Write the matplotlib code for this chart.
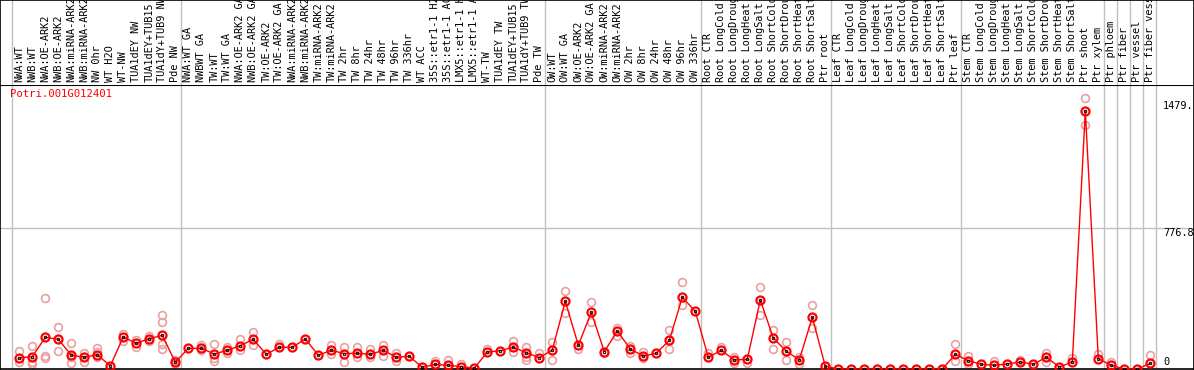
import matplotlib
matplotlib.use("Agg")
import matplotlib.pyplot as plt

gene = "Potri.001G012401"

labels = [
    "NWA:WT", "NWB:WT", "NWA:OE-ARK2", "NWB:OE-ARK2", "NWA:miRNA-ARK2", "NWB:miRNA-ARK2",
    "NW 0hr", "WT H2O", "WT-NW", "TUA1dEY NW", "TUA1dEY+TUB15", "TUA1dY+TUB9 NW", "Pde NW",
    "NWA:WT GA", "NWBWT GA", "TW:WT", "TW:WT GA", "NWA:OE-ARK2 GA", "NWB:OE-ARK2 GA",
    "TW:OE-ARK2", "TW:OE-ARK2 GA", "NWA:miRNA-ARK2", "NWB:miRNA-ARK2", "TW:miRNA-ARK2",
    "TW:miRNA-ARK2", "TW 2hr", "TW 8hr", "TW 24hr", "TW 48hr", "TW 96hr", "TW 336hr", "WT ACC",
    "35S::etr1-1 H2O", "35S::etr1-1 ACC", "LMX5::etr1-1 H2O", "LMX5::etr1-1 ACC", "WT-TW",
    "TUA1dEY TW", "TUA1dEY+TUB15", "TUA1dY+TUB9 TW", "Pde TW",
    "OW:WT", "OW:WT GA", "OW:OE-ARK2", "OW:OE-ARK2 GA", "OW:miRNA-ARK2", "OW:miRNA-ARK2",
    "OW 2hr", "OW 8hr", "OW 24hr", "OW 48hr", "OW 96hr", "OW 336hr",
    "Root CTR", "Root LongCold", "Root LongDrought", "Root LongHeat", "Root LongSalt",
    "Root ShortCold", "Root ShortDrought", "Root ShortHeat", "Root ShortSalt", "Ptr root",
    "Leaf CTR", "Leaf LongCold", "Leaf LongDrought", "Leaf LongHeat", "Leaf LongSalt",
    "Leaf ShortCold", "Leaf ShortDrought", "Leaf ShortHeat", "Leaf ShortSalt", "Ptr leaf",
    "Stem CTR", "Stem LongCold", "Stem LongDrought", "Stem LongHeat", "Stem LongSalt",
    "Stem ShortCold", "Stem ShortDrought", "Stem ShortHeat", "Stem ShortSalt",
    "Ptr shoot", "Ptr xylem", "Ptr phloem", "Ptr fiber", "Ptr vessel", "Ptr fiber vessel",
]
group_sizes = [13, 28, 12, 10, 10, 11, 1, 1, 1, 1]

means = [
    62, 68, 175, 164, 76, 65, 79, 17, 177, 142, 167, 186, 37,
    114, 114, 83, 103, 129, 164, 81, 120, 120, 166, 76, 103, 85, 87, 81, 103, 65, 70,
    9, 26, 20, 13, 4, 94, 101, 120, 90, 62,
    105, 374, 131, 313, 96, 210, 110, 72, 87, 158, 396, 318,
    65, 103, 50, 54, 381, 171, 98, 51, 285, 15,
    0, 0, 0, 0, 0, 0, 0, 0, 0, 81,
    46, 26, 20, 28, 39, 26, 65, 11, 39, 1425, 57,
    20, 0, 0, 31,
]
reps = [
    [99, 40], [125, 40, 26], [390, 72, 59], [230, 99], [142, 65, 31], [87, 65, 40],
    [118, 96, 65], [], [192, 156], [160, 123], [181, 156], [298, 258, 138, 110], [50, 26],
    [], [132, 105], [138, 59, 44], [123, 87], [164, 103], [204, 131], [], [138], [], [], [],
    [131, 81], [123, 40], [123, 65], [109, 65], [134, 72], [90, 46], [], [], [46], [50], [26],
    [], [110], [], [156, 96], [123, 65, 50], [90],
    [151, 50], [431, 311], [110], [368, 261], [87], [228, 184], [129, 90], [96, 59], [],
    [215, 109], [479, 353], [],
    [87], [123], [65, 31], [31], [451, 298], [215, 112], [149, 50], [65, 26], [353, 225], [],
    [], [], [], [], [], [], [], [], [], [138, 46],
    [72, 26], [], [46], [], [50], [], [87, 40], [], [59], [1495, 1347], [83],
    [40], [], [], [77],
]
axis_marks = [1479, 776.8, 0]
axis_texts = ["1479.", "776.8", "0"]

font = "DejaVu Sans Mono"
fs = 7.4
x = list(range(len(labels)))
xlim = (-1.485, 90.36)

fig = plt.figure(figsize=(11.94, 3.70), dpi=100)
ax = fig.add_axes([0, 1 / 370, 1, 284 / 370])
lab = fig.add_axes([0, 285 / 370, 1, 85 / 370])

ax.set_xlim(*xlim)
ax.set_ylim(0, 1568)
lab.set_xlim(*xlim)
lab.set_ylim(0, 1)
for a in (ax, lab):
    a.set_xticks([])
    a.set_yticks([])
    for s in a.spines.values():
        s.set_color("black")
        s.set_linewidth(1.2)
lab.spines["bottom"].set_visible(False)
ax.spines["top"].set_linewidth(1.5)

# group separators, a little left of the boundary between columns
edges = [0]
for g in group_sizes:
    edges.append(edges[-1] + g)
for pos in edges:
    for a in (ax, lab):
        a.axvline(pos - 0.6, color="#c0c0c0", lw=1, zorder=0)
ax.axhline(776.8, color="#c0c0c0", lw=1, zorder=0)

for i, t in enumerate(labels):
    lab.text(i, 0.03, t, rotation=90, ha="center", va="bottom", family=font,
             fontsize=fs, clip_on=True)

rx, ry = [], []
for i, r in enumerate(reps):
    for v in r:
        rx.append(i)
        ry.append(v)
ax.plot(rx, ry, "o", ms=5.6, mfc="none", mec="#eaa0a0", mew=1.2, zorder=2)

ax.plot(x, means, "-", color="red", lw=1, zorder=3)
ax.plot(x, means, "o", ms=5.8, mfc="none", mec="red", mew=1.6, zorder=4)
ax.plot(x, means, "o", ms=1.8, mfc="none", mec="black", mew=0.7, zorder=5)

for v, t in zip(axis_marks, axis_texts):
    va = "bottom" if v == 0 else "top"
    ax.text(87.98, v + (12 if v == 0 else 0), t, ha="left", va=va, family=font, fontsize=fs)

ax.text(-0.75, 1545, gene, color="red", ha="left", va="top", family=font, fontsize=fs + 0.3)

fig.savefig("out.png", dpi=100)
